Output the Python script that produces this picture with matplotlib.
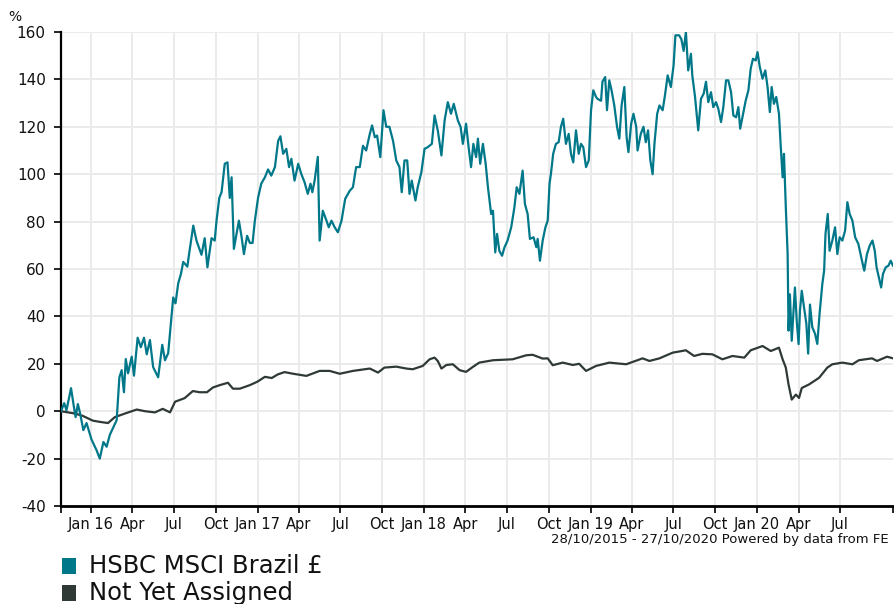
import numpy as np
import pandas as pd
import matplotlib
matplotlib.use("Agg")
import matplotlib.pyplot as plt
import matplotlib.dates as mdates
from matplotlib.patches import Rectangle

start_date = "2015-10-28"
end_date = "2020-10-27"

# HSBC MSCI Brazil £ : (days since start, cumulative % return)
brazil_days = [0, 7, 12, 22, 27, 32, 37, 42, 49, 56, 67, 78, 85, 93, 100, 107, 115, 122, 128, 133,
               138, 142, 147, 155, 160, 168, 175, 182, 188, 195, 202, 213, 222, 228, 235, 246, 251, 257, 263, 268,
               277, 281, 290, 297, 308, 315, 321, 330, 337, 341, 347, 352, 359, 365, 370, 374, 379, 385, 390, 396,
               401, 408, 414, 420, 425, 432, 439, 447, 454, 461, 469, 476, 481, 487, 494, 500, 505, 512, 520, 527,
               534, 541, 547, 551, 556, 563, 567, 574, 582, 587, 593, 600, 607, 615, 623, 633, 640, 647, 655, 662,
               669, 677, 682, 688, 693, 700, 707, 713, 720, 728, 735, 742, 747, 753, 759, 764, 769, 777, 782, 790,
               797, 804, 813, 819, 826, 834, 841, 848, 855, 861, 870, 876, 881, 888, 894, 899, 904, 910, 914, 919,
               925, 931, 936, 943, 947, 952, 956, 961, 967, 972, 979, 987, 994, 999, 1005, 1012, 1017, 1023, 1028, 1036,
               1042, 1045, 1050, 1056, 1062, 1067, 1071, 1074, 1079, 1085, 1091, 1096, 1101, 1107, 1113, 1118, 1123, 1129, 1135, 1140,
               1145, 1151, 1157, 1162, 1167, 1173, 1176, 1184, 1187, 1193, 1197, 1202, 1207, 1213, 1219, 1224, 1229, 1235, 1240, 1244,
               1250, 1255, 1261, 1264, 1271, 1277, 1282, 1287, 1292, 1297, 1301, 1307, 1312, 1319, 1324, 1330, 1337, 1343, 1347, 1355,
               1360, 1365, 1370, 1375, 1381, 1384, 1390, 1397, 1403, 1409, 1414, 1419, 1425, 1430, 1436, 1441, 1447, 1452, 1458, 1463,
               1469, 1474, 1480, 1485, 1489, 1496, 1501, 1507, 1512, 1517, 1523, 1527, 1532, 1538, 1544, 1549, 1554, 1558, 1563, 1568,
               1574, 1578, 1582, 1585, 1589, 1593, 1595, 1598, 1602, 1606, 1609, 1613, 1617, 1620, 1624, 1629, 1634, 1638, 1642, 1647,
               1653, 1658, 1663, 1669, 1673, 1676, 1681, 1685, 1691, 1697, 1702, 1707, 1713, 1719, 1724, 1729, 1735, 1741, 1748, 1756,
               1761, 1767, 1773, 1779, 1784, 1788, 1793, 1798, 1802, 1808, 1814, 1819, 1824]
brazil_values = [0, 3.4, 0.4, 9.7, 3.4, -2.5, 3.0, -1.0, -8.0, -5.0, -12.0, -16.5, -20.0, -13.0, -15.0, -10.0, -6.7, -3.8, 14.3, 17.3,
                 8.0, 22.0, 16.0, 23.0, 15.0, 31.0, 27.0, 31.0, 24.0, 30.0, 18.6, 14.3, 28.0, 21.5, 24.5, 48.0, 45.5, 54.0, 58.0, 63.0,
                 61.0, 66.6, 78.3, 72.0, 66.0, 73.0, 60.7, 73.0, 72.0, 80.4, 90.0, 92.4, 104.4, 105.0, 90.0, 98.7, 68.5, 75.0, 80.4, 73.4,
                 66.3, 74.0, 71.0, 71.0, 80.4, 90.0, 96.0, 98.7, 102.0, 99.4, 103.0, 114.0, 116.0, 108.6, 110.7, 103.0, 106.5, 97.3, 104.4, 100.0,
                 96.6, 91.7, 96.0, 92.4, 97.3, 107.3, 72.0, 84.6, 80.4, 77.6, 80.4, 77.6, 75.5, 80.4, 89.6, 93.0, 94.5, 103.0, 103.0, 112.0,
                 110.0, 117.0, 120.6, 115.6, 116.3, 107.2, 127.0, 120.0, 120.0, 114.0, 105.8, 103.0, 92.4, 105.8, 105.8, 91.7, 97.3, 88.9, 94.5, 100.8,
                 110.7, 111.4, 112.8, 124.8, 118.5, 107.9, 122.7, 130.4, 125.5, 129.7, 122.7, 120.0, 112.8, 121.3, 110.7, 103.0, 112.8, 107.2, 115.0, 104.4,
                 112.8, 104.4, 94.5, 83.2, 84.6, 67.0, 74.8, 67.6, 65.6, 69.0, 72.0, 77.6, 86.0, 94.5, 91.7, 101.5, 87.5, 83.2, 72.7, 73.4,
                 69.2, 72.7, 63.5, 72.0, 77.6, 80.4, 96.0, 100.0, 108.6, 112.8, 113.5, 120.0, 123.4, 112.8, 117.0, 108.6, 105.0, 118.5, 108.6, 112.8,
                 111.4, 103.0, 105.8, 127.0, 135.4, 132.6, 131.8, 131.0, 139.0, 141.0, 127.0, 139.6, 135.4, 129.0, 120.0, 115.0, 129.0, 136.8, 115.6, 109.3,
                 121.3, 125.5, 120.0, 110.0, 117.0, 120.0, 113.5, 118.5, 105.8, 100.0, 112.8, 125.5, 129.0, 127.0, 133.2, 141.7, 136.8, 146.0, 158.6, 158.6,
                 157.0, 152.0, 160.0, 143.8, 150.8, 141.7, 132.6, 118.5, 131.8, 134.0, 139.0, 130.4, 134.6, 128.3, 130.4, 127.6, 122.0, 128.3, 139.6, 139.6,
                 134.6, 124.8, 124.0, 128.3, 119.2, 126.2, 131.0, 135.4, 144.5, 148.7, 148.0, 151.5, 145.2, 140.3, 143.8, 136.8, 126.2, 136.8, 129.7, 132.6,
                 125.5, 111.4, 98.7, 108.6, 86.0, 66.3, 34.0, 49.3, 29.7, 42.3, 52.2, 38.0, 28.3, 42.3, 50.8, 43.7, 37.0, 24.3, 45.0, 35.5,
                 32.7, 28.4, 41.0, 53.6, 59.3, 74.8, 83.2, 67.7, 72.0, 77.6, 66.3, 73.4, 72.0, 76.2, 88.2, 83.2, 80.4, 73.4, 70.6, 63.5,
                 59.3, 66.3, 69.9, 72.0, 67.7, 60.7, 56.5, 52.2, 57.9, 60.7, 61.4, 63.5, 61.4]

# Not Yet Assigned (sector average)
sector_days = [0, 31, 48, 70, 85, 103, 118, 140, 166, 184, 206, 223, 239, 250, 271, 289, 304, 320, 333, 348,
               366, 377, 392, 414, 431, 447, 462, 475, 490, 509, 538, 567, 589, 611, 640, 677, 695, 709, 735, 757,
               771, 793, 808, 819, 826, 834, 845, 859, 874, 888, 903, 917, 947, 990, 1020, 1034, 1056, 1067, 1078, 1100,
               1122, 1136, 1151, 1173, 1202, 1239, 1275, 1290, 1312, 1341, 1370, 1388, 1406, 1428, 1450, 1472, 1498, 1512, 1538, 1556,
               1574, 1582, 1589, 1595, 1602, 1611, 1618, 1624, 1640, 1662, 1680, 1691, 1713, 1735, 1749, 1778, 1789, 1811, 1824]
sector_values = [0, -1.0, -2.0, -4.0, -4.5, -5.0, -2.5, -1.0, 0.7, 0.0, -0.5, 1.0, -0.5, 4.0, 5.5, 8.5, 8.0, 8.0, 10.0, 11.0,
                 12.0, 9.5, 9.5, 11.0, 12.5, 14.5, 14.0, 15.5, 16.5, 15.8, 14.9, 17.0, 17.0, 15.8, 17.0, 18.0, 16.3, 18.4, 18.8, 18.0,
                 17.7, 19.1, 21.9, 22.6, 21.2, 18.0, 19.5, 19.8, 17.3, 16.6, 18.7, 20.5, 21.5, 21.9, 23.6, 23.8, 22.2, 22.3, 19.4, 20.5,
                 19.5, 20.0, 17.0, 19.1, 20.5, 19.8, 22.3, 21.2, 22.3, 24.7, 25.7, 23.3, 24.2, 24.0, 21.9, 23.3, 22.6, 25.7, 27.5, 25.4,
                 26.8, 21.9, 18.4, 11.3, 4.9, 7.0, 5.6, 9.8, 11.3, 14.1, 18.4, 19.8, 20.5, 19.8, 21.5, 22.3, 21.2, 23.0, 22.3]

series_names = ["HSBC MSCI Brazil £", "Not Yet Assigned"]
series_colors = ["#00788a", "#2f3a37"]
tick_labels = ["Jan 16", "Apr", "Jul", "Oct", "Jan 17", "Apr", "Jul", "Oct", "Jan 18", "Apr", "Jul",
               "Oct", "Jan 19", "Apr", "Jul", "Oct", "Jan 20", "Apr", "Jul"]
y_ticks = [-40, -20, 0, 20, 40, 60, 80, 100, 120, 140, 160]
footer = "28/10/2015 - 27/10/2020 Powered by data from FE"

t0 = pd.Timestamp(start_date)
b_dates = t0 + pd.to_timedelta(brazil_days, unit="D")
s_dates = t0 + pd.to_timedelta(sector_days, unit="D")

W, H = 894, 604
fig = plt.figure(figsize=(W / 100, H / 100), dpi=100)
ax = fig.add_axes([61 / W, 1 - 506 / H, (893 - 61) / W, (506 - 32) / H])

ax.plot(s_dates, sector_values, color=series_colors[1], lw=1.6, zorder=3)
ax.plot(b_dates, brazil_values, color=series_colors[0], lw=1.6, zorder=4)

ax.set_ylim(-40, 160)
ax.set_xlim(t0, t0 + pd.Timedelta(days=1824))
ax.set_yticks(y_ticks)
ax.set_yticklabels([str(v) for v in y_ticks], fontsize=11, color="#111111")

qticks = pd.date_range("2016-01-01", "2020-07-01", freq="QS")
ax.set_xticks(qticks)
ax.set_xticklabels(tick_labels, fontsize=10.5, color="#111111")
ax.set_xticks([t0, t0 + pd.Timedelta(days=1824)], minor=True)
ax.tick_params(axis="x", which="both", direction="out", length=5, width=1.2, color="black", pad=3)
ax.tick_params(axis="y", direction="out", length=5, width=1.2, color="black", pad=6)

ax.grid(True, which="major", color="#ebebeb", lw=1.4, zorder=0)
ax.set_axisbelow(True)
for s in ["top", "right"]:
    ax.spines[s].set_visible(False)
ax.spines["left"].set_linewidth(1.6)
ax.spines["bottom"].set_linewidth(2.0)

fig.text(8 / W, 1 - 17 / H, "%", fontsize=10, va="center", ha="left", color="#111111")
fig.text(889 / W, 1 - 540 / H, footer, fontsize=9.5, ha="right", va="center", color="#111111")

for i, (name, col) in enumerate(zip(series_names, series_colors)):
    yc = 566 + i * 27
    fig.add_artist(Rectangle((62 / W, 1 - (yc + 8) / H), 14 / W, 16 / H,
                             transform=fig.transFigure, color=col, lw=0))
    fig.text(89 / W, 1 - yc / H, name, fontsize=17.5, va="center", ha="left", color="#111111")

fig.savefig("out.png", dpi=100)
